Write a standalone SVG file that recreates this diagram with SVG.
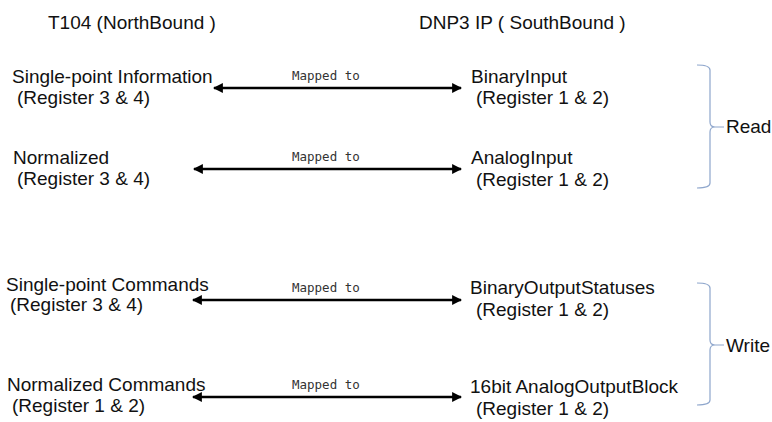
<svg xmlns="http://www.w3.org/2000/svg" width="772" height="422" viewBox="0 0 772 422">
<defs>
<marker id="ah" viewBox="0 0 10 10" refX="9" refY="5" markerWidth="4.4" markerHeight="3.8" orient="auto-start-reverse" markerUnits="strokeWidth">
<path d="M0,0 L10,5 L0,10 Z" fill="#000"/>
</marker>
</defs>
<style>
.t{font-family:"Liberation Sans",Arial,sans-serif;font-size:19px;fill:#111}
.m{font-family:"DejaVu Sans Mono","Liberation Mono",monospace;font-size:12.5px;fill:#333}
.a{stroke:#000;stroke-width:2.6;fill:none;marker-start:url(#ah);marker-end:url(#ah)}
.b{stroke:#8ea6cc;stroke-width:1.2;fill:none}
</style>
<rect width="772" height="422" fill="#fff"/>
<g id="title-north"><text class="t" x="48" y="29">T104 (NorthBound )</text></g>
<g id="title-south"><text class="t" x="419" y="29">DNP3 IP ( SouthBound )</text></g>

<g id="n-spi"><text class="t" x="12" y="83">Single-point Information</text><text class="t" x="17" y="104">(Register 3 &amp; 4)</text></g>
<g id="s-bi"><text class="t" x="471" y="83">BinaryInput</text><text class="t" x="476" y="104">(Register 1 &amp; 2)</text></g>

<g id="n-norm"><text class="t" x="13" y="164">Normalized</text><text class="t" x="17" y="185">(Register 3 &amp; 4)</text></g>
<g id="s-ai"><text class="t" x="471" y="164">AnalogInput</text><text class="t" x="476" y="186">(Register 1 &amp; 2)</text></g>

<g id="n-spc"><text class="t" x="6" y="291">Single-point Commands</text><text class="t" x="10" y="311">(Register 3 &amp; 4)</text></g>
<g id="s-bos"><text class="t" x="470" y="294">BinaryOutputStatuses</text><text class="t" x="476" y="316">(Register 1 &amp; 2)</text></g>

<g id="n-nc"><text class="t" x="7" y="391">Normalized Commands</text><text class="t" x="12" y="412">(Register 1 &amp; 2)</text></g>
<g id="s-aob"><text class="t" x="470" y="393">16bit AnalogOutputBlock</text><text class="t" x="476" y="415">(Register 1 &amp; 2)</text></g>

<g id="connectors">
<line class="a" x1="214" y1="88" x2="461" y2="88"/>
<text class="m" x="292" y="80">Mapped to</text>
<line class="a" x1="194" y1="169" x2="461" y2="169"/>
<text class="m" x="292" y="161">Mapped to</text>
<line class="a" x1="193" y1="300" x2="461" y2="300"/>
<text class="m" x="292" y="292">Mapped to</text>
<line class="a" x1="193" y1="397" x2="461" y2="397"/>
<text class="m" x="292" y="389">Mapped to</text>
</g>

<g id="brace-read">
<path class="b" d="M697,65 Q710,65 710,70 L710,122 Q710,127 715,127 L724,127 M715,127 Q710,127 710,132 L710,183 Q710,188 697,188"/>
<text class="t" x="726" y="133">Read</text>
</g>
<g id="brace-write">
<path class="b" d="M697,283 Q710,283 710,288 L710,340 Q710,345 715,345 L724,345 M715,345 Q710,345 710,350 L710,400 Q710,405 697,405"/>
<text class="t" x="726" y="352">Write</text>
</g>
</svg>
